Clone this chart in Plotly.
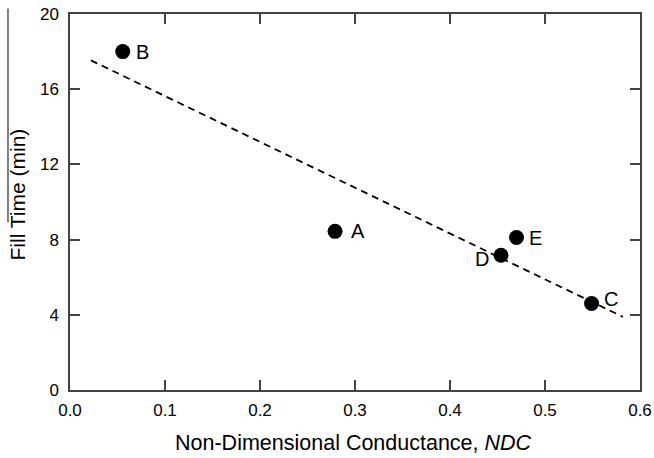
import numpy as np
import plotly.graph_objects as go

# Data
labels = ["A", "B", "C", "D", "E"]
ndc = [0.279, 0.0555, 0.549, 0.4537, 0.470]
fill_time = [8.44, 18.0, 4.6, 7.17, 8.11]

# Extent of the fitted trend line (x values)
fit_x_range = [0.022, 0.582]

x_ticks = [0.0, 0.1, 0.2, 0.3, 0.4, 0.5, 0.6]
y_ticks = [0, 4, 8, 12, 16, 20]

slope, intercept = np.polyfit(ndc, fill_time, 1)
fit_x = np.array(fit_x_range)
fit_y = slope * fit_x + intercept

FONT = "Liberation Sans, Arial, sans-serif"
AX = "#444444"

fig = go.Figure()
fig.add_trace(go.Scatter(
    x=fit_x, y=fit_y, mode="lines",
    line=dict(color="black", width=1.8, dash="7px,5px"),
    showlegend=False, hoverinfo="skip"))
fig.add_trace(go.Scatter(
    x=ndc, y=fill_time, mode="markers",
    marker=dict(color="black", size=15),
    showlegend=False))

label_style = {
    "A": dict(xanchor="left", xshift=14, yshift=0),
    "B": dict(xanchor="left", xshift=11, yshift=0),
    "C": dict(xanchor="left", xshift=10, yshift=5),
    "D": dict(xanchor="right", xshift=-10, yshift=-4),
    "E": dict(xanchor="left", xshift=10, yshift=0),
}
for lab, xv, yv in zip(labels, ndc, fill_time):
    st = label_style[lab]
    fig.add_annotation(x=xv, y=yv, text=lab, showarrow=False,
                       xanchor=st["xanchor"], yanchor="middle",
                       xshift=st["xshift"], yshift=st["yshift"],
                       font=dict(family=FONT, size=20, color="black"))

# y-axis title
fig.add_annotation(xref="paper", yref="paper", x=-0.093, y=0.52,
                   text="Fill Time (min)", textangle=-90, showarrow=False,
                   xanchor="center", yanchor="middle",
                   font=dict(family=FONT, size=21, color="black"))
# x-axis title
fig.add_annotation(xref="paper", yref="paper", x=0.497, y=-0.141,
                   text="Non-Dimensional Conductance, <i>NDC</i>", showarrow=False,
                   xanchor="center", yanchor="middle",
                   font=dict(family=FONT, size=21.5, color="black"))

# thin vertical rule in the left margin of the original figure
fig.add_shape(type="line", xref="paper", yref="paper",
              x0=-0.1088, x1=-0.1088, y0=1.0146, y1=0.446,
              line=dict(color="#555555", width=1.5))

fig.update_xaxes(range=[0, 0.6], tickvals=x_ticks,
                 ticktext=[f"{v:.1f}" for v in x_ticks],
                 showgrid=False, zeroline=False, automargin=False,
                 showline=True, linecolor=AX, linewidth=1.5, mirror="ticks",
                 ticks="inside", ticklen=10, tickwidth=1.5, tickcolor=AX,
                 ticklabelstandoff=4,
                 tickfont=dict(family=FONT, size=17, color="black"))
fig.update_yaxes(range=[0, 20], tickvals=y_ticks,
                 showgrid=False, zeroline=False, automargin=False,
                 showline=True, linecolor=AX, linewidth=1.5, mirror="ticks",
                 ticks="inside", ticklen=10, tickwidth=1.5, tickcolor=AX,
                 ticklabelstandoff=6,
                 tickfont=dict(family=FONT, size=17, color="black"))

fig.update_layout(width=654, height=458,
                  margin=dict(l=70, r=14, t=14, b=68, autoexpand=False),
                  plot_bgcolor="white", paper_bgcolor="white",
                  font=dict(family=FONT, color="black"))

fig.write_html("out.html")
